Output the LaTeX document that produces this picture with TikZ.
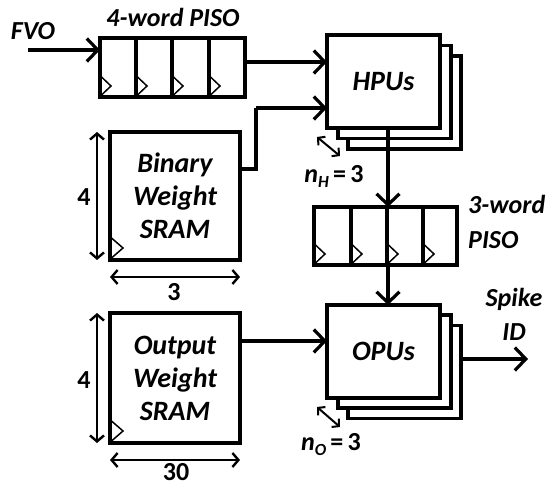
\documentclass[tikz,border=0pt]{standalone}
\usepackage{fontspec}
\setmainfont{Carlito}
\usetikzlibrary{arrows.meta,calc}
\begin{document}
\begin{tikzpicture}[x=1pt,y=-1pt,
  blk/.style={draw, line width=3.4pt, fill=white, inner sep=0pt, outer sep=0pt},
  conn/.style={line width=3.2pt, -{Straight Barb[length=11pt,width=23pt]}},
  wire/.style={line width=3.2pt},
  dimarrow/.style={line width=2.4pt, {Straight Barb[length=6pt,width=14pt]}-{Straight Barb[length=6pt,width=14pt]}},
  clk/.style={line width=1.5pt},
  lbl/.style={font=\fontsize{26}{30}\selectfont\bfseries\itshape, inner sep=0pt},
  boxtxt/.style={font=\fontsize{28}{33}\selectfont\bfseries\itshape, align=center, inner sep=0pt},
  num/.style={font=\fontsize{26}{30}\selectfont\bfseries, inner sep=0pt}
]
\useasboundingbox (0,0) rectangle (551,486);

% 4-word PISO
\node[blk, minimum width=145pt, minimum height=59pt] (piso4) at (172.5,67.5) {};
\foreach \x in {136,172,209} \draw[wire] (\x,38) -- (\x,97);
\foreach \x in {100,136,172,209} \draw[clk] (\x+1.5,77) -- (\x+11,86) -- (\x+1.5,95);
\node[lbl] (piso4lbl) at (173,17) {4-word PISO};

% FVO
\node[lbl] (fvo) at (33,31) {FVO};
\coordinate (fvoin) at (28,50);
\draw[conn] (fvoin) -- (fvoin -| piso4.west);

% HPUs stack
\node[blk, minimum width=113pt, minimum height=93pt] (hpu3) at (404.5,102.5) {};
\node[blk, minimum width=113pt, minimum height=93pt] (hpu2) at (394.5,92) {};
\node[blk, minimum width=113pt, minimum height=93pt] (hpu) at (383.5,81.5) {};
\node[boxtxt] (hputxt) at (hpu.center) {HPUs};

% PISO -> HPU
\coordinate (p4out) at (245,62);
\draw[conn] (p4out) -- (p4out -| hpu.west);

% Binary Weight SRAM
\node[blk, minimum width=130pt, minimum height=128pt] (bw) at (175,196) {};
\node[boxtxt] (bwtxt) at (175,196) {Binary\\Weight\\SRAM};
\draw[clk] (bw.south west) ++(1.5,-22) -- ++(11.5,10) -- ++(-11.5,10);
\coordinate (bwout) at (240,169);
\coordinate (bwbend) at (256,169);
\coordinate (bwup) at (256,108);
\draw[wire] (bwout) -- (bwbend) -- (bwup);
\draw[conn] (bwup) -- (bwup -| hpu.west);

% dimensions of binary SRAM
\coordinate (bwvt) at (97,132);
\coordinate (bwvb) at (97,260);
\draw[dimarrow] (bwvt) -- (bwvb);
\node[num] (bw4) at (84,197) {4};
\coordinate (bwhl) at (110,277);
\coordinate (bwhr) at (240,277);
\draw[dimarrow] (bwhl) -- (bwhr);
\node[num] (bw3) at (174,292) {3};

% n_H
\coordinate (nhA) at (317,137);
\coordinate (nhB) at (340,156);
\draw[line width=2pt, {Straight Barb[length=5pt,width=11pt]}-{Straight Barb[length=5pt,width=11pt]}] (nhA) -- (nhB);
\node[font=\fontsize{26}{30}\selectfont\bfseries, inner sep=0pt] (nh) at (334,176) {\textit{n}\raisebox{-0.4ex}{\fontsize{17}{19}\selectfont\textit{H}}\,=\,3};

% 3-word PISO
\node[blk, minimum width=143pt, minimum height=58pt] (piso3) at (385.5,236) {};
\foreach \x in {351,387,423} \draw[wire] (\x,207) -- (\x,265);
\foreach \x in {314,351,387,423} \draw[clk] (\x+1.5,245) -- (\x+11,254) -- (\x+1.5,263);
\node[lbl, align=left, anchor=west, font=\fontsize{26}{35}\selectfont\bfseries\itshape] (piso3lbl) at (468,222) {3-word\\PISO};

% HPU -> PISO3
\coordinate (hpudown) at (388,128);
\draw[conn] (hpudown) -- (hpudown |- piso3.north);

% OPUs stack
\node[blk, minimum width=113pt, minimum height=93pt] (opu3) at (404.5,372) {};
\node[blk, minimum width=113pt, minimum height=93pt] (opu2) at (394.5,361.5) {};
\node[blk, minimum width=113pt, minimum height=93pt] (opu) at (383.5,351.5) {};
\node[boxtxt] (oputxt) at (opu.center) {OPUs};

% PISO3 -> OPU
\coordinate (p3down) at (388,265);
\draw[conn] (p3down) -- (p3down |- opu.north);

% Output Weight SRAM
\node[blk, minimum width=130pt, minimum height=130pt] (ow) at (175,378) {};
\node[boxtxt] (owtxt) at (175,378) {Output\\Weight\\SRAM};
\draw[clk] (ow.south west) ++(1.5,-22) -- ++(11.5,10) -- ++(-11.5,10);
\coordinate (owout) at (240,341);
\draw[conn] (owout) -- (owout -| opu.west);

% dimensions of output SRAM
\coordinate (owvt) at (97,313);
\coordinate (owvb) at (97,443);
\draw[dimarrow] (owvt) -- (owvb);
\node[num] (ow4) at (84,380) {4};
\coordinate (owhl) at (110,460);
\coordinate (owhr) at (240,460);
\draw[dimarrow] (owhl) -- (owhr);
\node[num] (ow30) at (176,472.5) {30};

% Spike ID
\coordinate (spike) at (528,359);
\draw[conn] (opu3.east |- spike) -- (spike);
\node[lbl, align=center, font=\fontsize{26}{34}\selectfont\bfseries\itshape] (spikelbl) at (514,314) {Spike\\ID};

% n_O
\coordinate (noA) at (317,407);
\coordinate (noB) at (340,427);
\draw[line width=2pt, {Straight Barb[length=5pt,width=11pt]}-{Straight Barb[length=5pt,width=11pt]}] (noA) -- (noB);
\node[font=\fontsize{26}{30}\selectfont\bfseries, inner sep=0pt] (no) at (331,445) {\textit{n}\raisebox{-0.4ex}{\fontsize{17}{19}\selectfont\textit{O}}\,=\,3};
\end{tikzpicture}
\end{document}
